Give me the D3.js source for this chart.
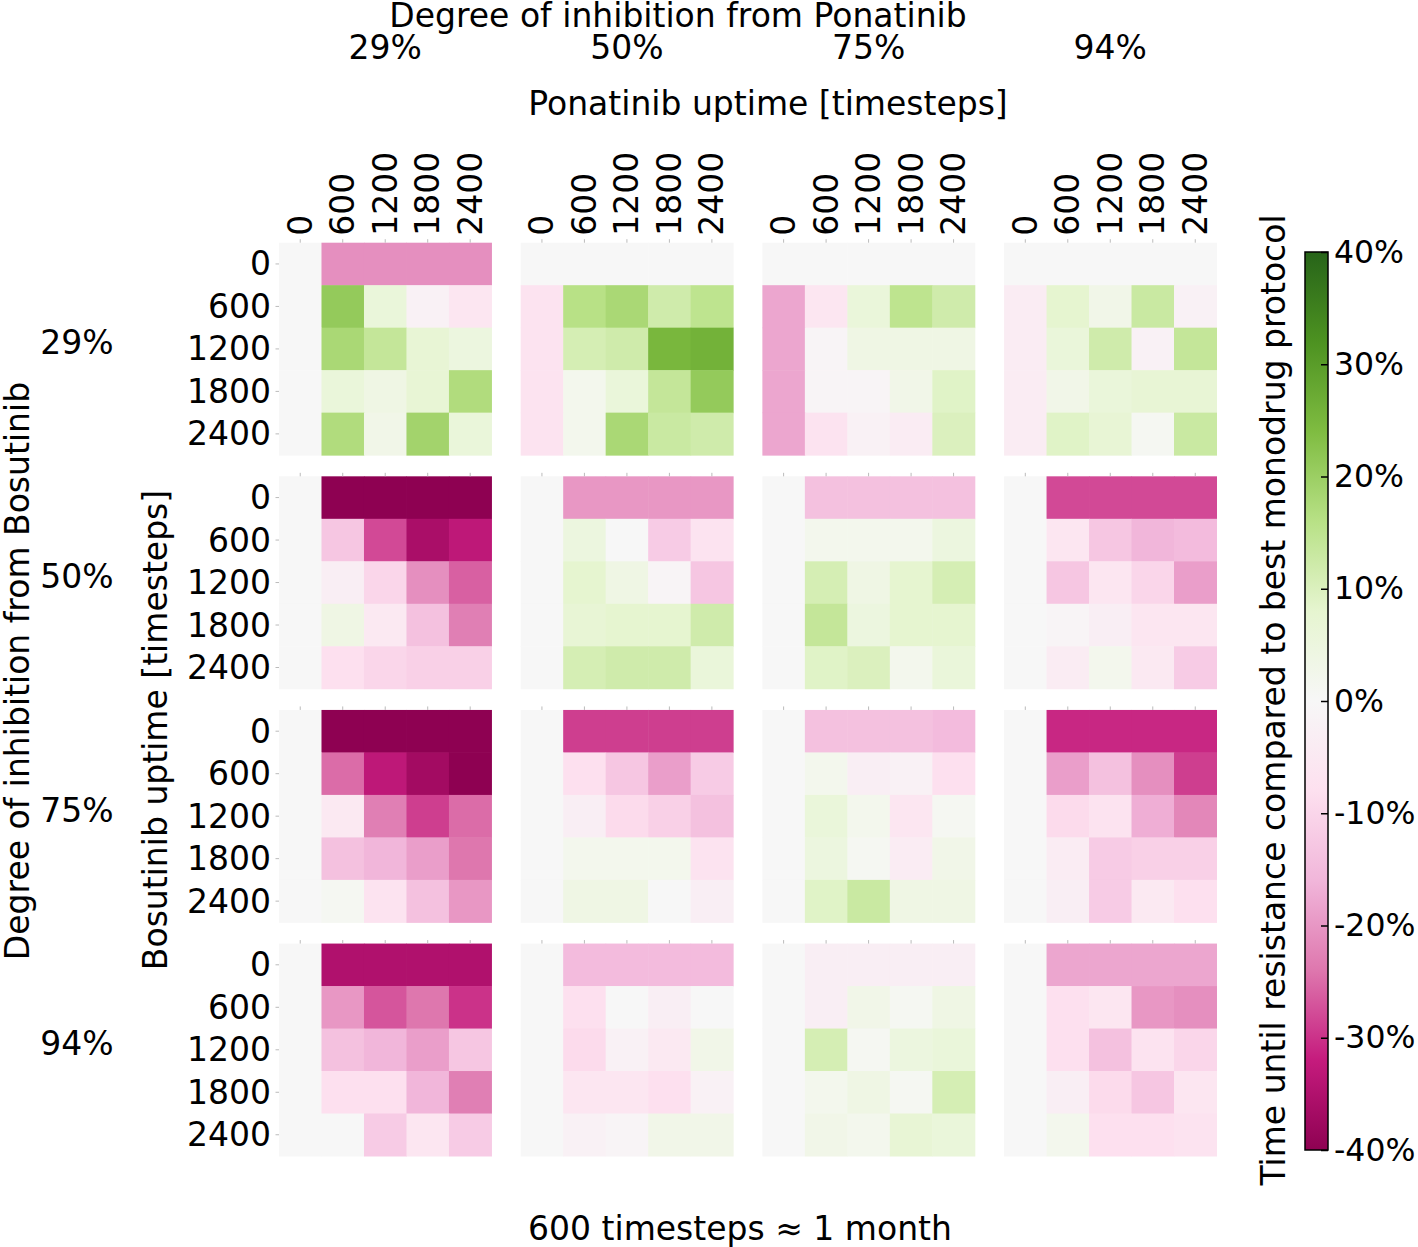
<!DOCTYPE html>
<html>
<head>
<meta charset="utf-8">
<script src="https://cdn.jsdelivr.net/npm/d3@7"></script>
<style>
  html, body { margin: 0; padding: 0; background: #fff; }
  svg { display: block; font-family: "DejaVu Sans", sans-serif; }
</style>
</head>
<body>
<svg id="chart" width="1418" height="1247"></svg>
<script>
// ---------------- data ----------------
const ponatinibDegrees = ["29%", "50%", "75%", "94%"];
const bosutinibDegrees = ["29%", "50%", "75%", "94%"];
const uptimes = [0, 600, 1200, 1800, 2400];
const colorTicks = [-40, -30, -20, -10, 0, 10, 20, 30, 40];

// values in % : for each Bosutinib degree -> 4 panels (Ponatinib degree) -> 5 rows (Bosutinib uptime) x 5 cols (Ponatinib uptime)
const bos29 = [
  [[0,-21,-21,-21,-21],[0,21,6,-2,-6],[0,18,14,7,5],[0,6,4,7,17],[0,17,3,19,6]],
  [[0,0,0,0,0],[-7,16,18,12,15],[-7,11,12,25,26],[-7,2,6,14,21],[-7,2,18,13,12]],
  [[0,0,0,0,0],[-18,-6,6,15,12],[-18,-1,4,4,4],[-18,-1,-1,3,9],[-18,-7,-2,-4,10]],
  [[0,0,0,0,0],[-4,8,3,13,-2],[-4,6,12,-2,14],[-4,3,6,7,7],[-4,9,7,1,13]]
];
const bos50 = [
  [[0,-40,-40,-40,-40],[0,-13,-28,-36,-33],[0,-3,-10,-21,-26],[0,4,-5,-14,-23],[0,-8,-10,-11,-11]],
  [[0,-20,-20,-20,-20],[0,5,0,-12,-7],[0,8,4,-1,-13],[0,7,8,8,12],[0,11,12,12,6]],
  [[0,-14,-14,-14,-14],[0,2,2,2,5],[0,11,4,8,11],[0,14,5,8,8],[0,9,10,2,6]],
  [[0,-28,-28,-28,-28],[0,-6,-13,-16,-15],[0,-13,-6,-10,-19],[0,-1,-3,-6,-6],[0,-4,2,-5,-12]]
];
const bos75 = [
  [[0,-40,-40,-40,-40],[0,-25,-33,-37,-40],[0,-5,-23,-29,-25],[0,-14,-16,-19,-24],[0,1,-7,-14,-20]],
  [[0,-29,-29,-29,-29],[0,-8,-13,-19,-12],[0,-3,-9,-11,-14],[0,2,2,2,-7],[0,4,4,0,-3]],
  [[0,-14,-14,-14,-15],[0,2,-3,-2,-8],[0,6,2,-6,1],[0,5,1,-4,3],[0,9,13,4,4]],
  [[0,-31,-31,-31,-31],[0,-19,-14,-21,-29],[0,-9,-7,-17,-22],[0,-4,-12,-11,-11],[0,-3,-12,-5,-8]]
];
const bos94 = [
  [[0,-35,-35,-35,-35],[0,-20,-27,-24,-30],[0,-14,-16,-19,-13],[0,-8,-8,-16,-23],[0,0,-12,-6,-12]],
  [[0,-15,-15,-15,-15],[0,-8,0,-3,0],[0,-9,-2,-5,3],[0,-6,-6,-8,-2],[0,-2,-1,3,3]],
  [[0,-3,-3,-3,-3],[0,-3,3,1,4],[0,11,1,5,6],[0,2,4,1,11],[0,3,2,7,6]],
  [[0,-18,-18,-18,-18],[0,-8,-6,-20,-21],[0,-8,-14,-7,-10],[0,-3,-9,-13,-6],[0,2,-8,-8,-7]]
];
const gridValues = [bos29, bos50, bos75, bos94];

// PiYG (matplotlib) anchor colours
const piygColors = ["#8e0152","#c51b7d","#de77ae","#f1b6da","#fde0ef","#f7f7f7","#e6f5d0","#b8e186","#7fbc41","#4d9221","#276419"];

// ---------------- drawing ----------------
const svg = d3.select("#chart");
const FS = 33;

const color = d3.scaleLinear()
  .domain(d3.range(11).map(i => -40 + i * 8))
  .range(piygColors)
  .interpolate(d3.interpolateRgb)
  .clamp(true);

const outerX = d3.scaleBand().domain(d3.range(4)).range([279, 1216.5]).paddingInner(0.121);
const outerY = d3.scaleBand().domain(d3.range(4)).range([242.7, 1156]).paddingInner(0.0907);
const innerX = d3.scaleBand().domain(uptimes).range([0, outerX.bandwidth()]);
const innerY = d3.scaleBand().domain(uptimes).range([0, outerY.bandwidth()]);

gridValues.forEach((bosPanels, bi) => {
  bosPanels.forEach((panel, pi) => {
    const g = svg.append("g")
      .attr("transform", `translate(${outerX(pi)},${outerY(bi)})`);
    const cells = [];
    panel.forEach((row, r) => row.forEach((v, c) => cells.push({r: uptimes[r], c: uptimes[c], v})));
    g.selectAll("rect").data(cells).join("rect")
      .attr("x", d => innerX(d.c))
      .attr("y", d => innerY(d.r))
      .attr("width", innerX.bandwidth() + 0.5)
      .attr("height", innerY.bandwidth() + 0.5)
      .attr("fill", d => color(d.v));

    // small tick marks
    g.append("g").selectAll("line").data(uptimes).join("line")
      .attr("x1", d => innerX(d) + innerX.bandwidth() / 2)
      .attr("x2", d => innerX(d) + innerX.bandwidth() / 2)
      .attr("y1", 0).attr("y2", -3.5)
      .attr("stroke", "#bbb").attr("stroke-width", 1);
    if (pi === 0) {
      g.append("g").selectAll("line").data(uptimes).join("line")
        .attr("y1", d => innerY(d) + innerY.bandwidth() / 2)
        .attr("y2", d => innerY(d) + innerY.bandwidth() / 2)
        .attr("x1", 0).attr("x2", -3.5)
        .attr("stroke", "#bbb").attr("stroke-width", 1);
    }

    // top tick labels (only top row of panels)
    if (bi === 0) {
      g.append("g").selectAll("text").data(uptimes).join("text")
        .attr("transform", d => `translate(${innerX(d) + innerX.bandwidth() / 2},-7) rotate(-90)`)
        .attr("text-anchor", "start")
        .attr("dominant-baseline", "central")
        .attr("font-size", FS)
        .text(d => d);
    }
    // left tick labels (only left column of panels)
    if (pi === 0) {
      g.append("g").selectAll("text").data(uptimes).join("text")
        .attr("x", -8)
        .attr("y", d => innerY(d) + innerY.bandwidth() / 2)
        .attr("text-anchor", "end")
        .attr("dominant-baseline", "central")
        .attr("font-size", FS)
        .text(d => d);
    }
  });
});

// Ponatinib degree labels
svg.append("g").selectAll("text").data(ponatinibDegrees).join("text")
  .attr("x", (d, i) => outerX(i) + outerX.bandwidth() / 2)
  .attr("y", 59)
  .attr("text-anchor", "middle")
  .attr("font-size", FS)
  .text(d => d);

// Bosutinib degree labels
svg.append("g").selectAll("text").data(bosutinibDegrees).join("text")
  .attr("x", 77)
  .attr("y", (d, i) => outerY(i) + outerY.bandwidth() / 2 - 6)
  .attr("text-anchor", "middle")
  .attr("dominant-baseline", "central")
  .attr("font-size", FS)
  .text(d => d);

// titles
svg.append("text").attr("x", 678).attr("y", 27).attr("text-anchor", "middle")
  .attr("font-size", FS).text("Degree of inhibition from Ponatinib");
svg.append("text").attr("x", 768).attr("y", 115).attr("text-anchor", "middle")
  .attr("font-size", FS).text("Ponatinib uptime [timesteps]");
svg.append("text").attr("transform", "translate(17,671) rotate(-90)")
  .attr("text-anchor", "middle").attr("dominant-baseline", "central")
  .attr("font-size", FS).text("Degree of inhibition from Bosutinib");
svg.append("text").attr("transform", "translate(155,730) rotate(-90)")
  .attr("text-anchor", "middle").attr("dominant-baseline", "central")
  .attr("font-size", FS).text("Bosutinib uptime [timesteps]");
svg.append("text").attr("x", 740).attr("y", 1228).attr("text-anchor", "middle")
  .attr("dominant-baseline", "central")
  .attr("font-size", FS).text("600 timesteps \u2248 1 month");
svg.append("text").attr("transform", "translate(1273,700) rotate(-90)")
  .attr("text-anchor", "middle").attr("dominant-baseline", "central")
  .attr("font-size", FS).text("Time until resistance compared to best monodrug protocol");

// colour bar
const cbX = 1305, cbW = 23;
const cbScale = d3.scaleLinear().domain([-40, 40]).range([1150, 252]);
const defs = svg.append("defs");
const grad = defs.append("linearGradient").attr("id", "cbgrad")
  .attr("x1", 0).attr("y1", 1).attr("x2", 0).attr("y2", 0);
grad.selectAll("stop").data(piygColors).join("stop")
  .attr("offset", (d, i) => i / 10)
  .attr("stop-color", d => d);
svg.append("rect")
  .attr("x", cbX).attr("y", cbScale(40))
  .attr("width", cbW).attr("height", cbScale(-40) - cbScale(40))
  .attr("fill", "url(#cbgrad)")
  .attr("stroke", "#000").attr("stroke-width", 1.5);
const cbAxis = d3.axisRight(cbScale).tickValues(colorTicks)
  .tickSize(-7).tickPadding(6).tickFormat(d => d + "%");
const cbG = svg.append("g").attr("transform", `translate(${cbX + cbW},0)`).call(cbAxis);
cbG.select(".domain").remove();
cbG.selectAll(".tick line").attr("stroke", "#000").attr("stroke-width", 1.5);
cbG.selectAll(".tick text").attr("font-size", 31.5).attr("font-family", "DejaVu Sans").attr("fill", "#000");
</script>
</body>
</html>
